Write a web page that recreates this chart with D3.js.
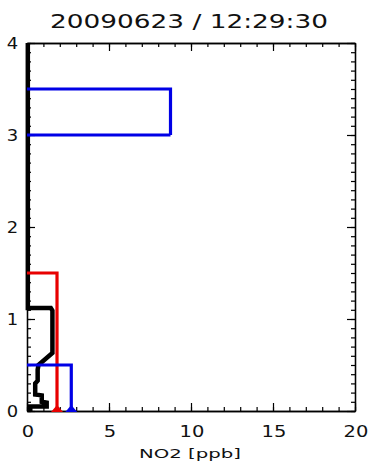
<!DOCTYPE html>
<html><head><meta charset="utf-8">
<script src="https://cdn.jsdelivr.net/npm/d3@7"></script>
<style>body{margin:0;background:#fff}svg{display:block}text{font-family:"DejaVu Sans",sans-serif;fill:#111}</style>
</head><body><svg id="c" width="371" height="475"></svg>
<script>
const title = "20090623 / 12:29:30";
const xLabel = "NO2 [ppb]";
const xTicks = [0, 5, 10, 15, 20];
const yTicks = [0, 1, 2, 3, 4];
// black measured profile: [NO2 ppb, altitude km]
const profileNO2 = [0.05, 0.05, 1.45, 1.55, 1.55, 0.7, 0.65, 0.65, 0.5, 0.5, 0.9, 0.9, 1.2, 1.2, 0.2, 0.2];
const profileAlt = [4.0, 1.12, 1.12, 1.09, 0.63, 0.5, 0.45, 0.33, 0.3, 0.18, 0.17, 0.1, 0.09, 0.05, 0.05, 0.0];
// boxes: red and blue layers [value, bottom, top]
const redBoxes = [[1.83, 0, 1.5]];
const blueBoxes = [[2.7, 0, 0.5], [8.75, 3.0, 3.5]];
const redMarker = 1.83, blueMarker = 2.7;

const svg = d3.select("#c");
const L = 27, R = 355, T = 43, B = 411;
const x = d3.scaleLinear().domain([0, 20]).range([L, R]);
const y = d3.scaleLinear().domain([0, 4]).range([B, T]);

const g = svg.append("g");
function axis(gen, tr) { const a = g.append("g").attr("transform", tr).call(gen);
  a.selectAll(".domain").attr("stroke", "#000").attr("stroke-width", 1.3);
  a.selectAll(".tick line").attr("stroke", "#000").attr("stroke-width", 1.2);
  a.selectAll("text").remove(); return a; }
const xMinor = d3.range(0, 21, 1), yMinor = d3.range(0, 41, 1).map(d => d / 10);
axis(d3.axisBottom(x).tickValues(xMinor).tickSize(-4).tickSizeOuter(0), `translate(0,${B})`);
axis(d3.axisBottom(x).tickValues(xTicks).tickSize(-8).tickSizeOuter(0), `translate(0,${B})`);
axis(d3.axisTop(x).tickValues(xMinor).tickSize(-4).tickSizeOuter(0), `translate(0,${T})`);
axis(d3.axisTop(x).tickValues(xTicks).tickSize(-8).tickSizeOuter(0), `translate(0,${T})`);
axis(d3.axisLeft(y).tickValues(yMinor).tickSize(-4).tickSizeOuter(0), `translate(${L},0)`);
axis(d3.axisLeft(y).tickValues(yTicks).tickSize(-8).tickSizeOuter(0), `translate(${L},0)`);
axis(d3.axisRight(y).tickValues(yMinor).tickSize(-4).tickSizeOuter(0), `translate(${R},0)`);
axis(d3.axisRight(y).tickValues(yTicks).tickSize(-8).tickSizeOuter(0), `translate(${R},0)`);

function stretch(sel, cx, k) { sel.attr("transform", `translate(${cx},0) scale(${k},1) translate(${-cx},0)`); }
function fit(sel, cx, w) { const n = sel.node().getBBox().width; stretch(sel, cx, w / n); }

// labels
svg.selectAll(".xl").data(xTicks).join("text").attr("x", d => x(d) + 1).attr("y", 437)
  .attr("text-anchor", "middle").attr("font-size", 15).text(d => d)
  .each(function(d) { stretch(d3.select(this), x(d) + 1, 1.3); });
svg.selectAll(".yl").data(yTicks).join("text").attr("x", 12.5).attr("y", d => y(d) + 6)
  .attr("text-anchor", "middle").attr("font-size", 15).text(d => d)
  .each(function() { stretch(d3.select(this), 12.5, 1.2); });
const xl = svg.append("text").attr("x", 190).attr("y", 458).attr("text-anchor", "middle").attr("font-size", 12.5)
  .text(xLabel);
fit(xl, 190, 102);
const tt = svg.append("text").attr("x", 189).attr("y", 28).attr("text-anchor", "middle").attr("font-size", 20)
  .text(title);
fit(tt, 189, 278);

// profile
const line = d3.line().x(d => x(d[0])).y(d => y(d[1]));
const prof = profileNO2.map((v, i) => [v, profileAlt[i]]);
svg.append("path").attr("d", line(prof)).attr("fill", "none").attr("stroke", "#000")
  .attr("stroke-width", 4.5).attr("stroke-linejoin", "miter");

function boxes(data, col) {
  svg.selectAll(null).data(data).join("path")
    .attr("d", d => line([[0, d[2]], [d[0], d[2]], [d[0], d[1]]]) )
    .attr("fill", "none").attr("stroke", col).attr("stroke-width", 3.2);
  svg.selectAll(null).data(data.filter(d => d[1] > 0)).join("line")
    .attr("x1", x(0)).attr("x2", d => x(d[0])).attr("y1", d => y(d[1])).attr("y2", d => y(d[1]))
    .attr("stroke", col).attr("stroke-width", 3.2);
}
boxes(redBoxes, "#e80000");
boxes(blueBoxes, "#0000e6");
function marker(v, col) {
  const cx = x(v), by = y(0) + 1;
  svg.append("path").attr("d", `M${cx - 6},${by}L${cx + 6},${by}L${cx},${by - 7}Z`).attr("fill", col);
}
marker(redMarker, "#e80000");
marker(blueMarker, "#0000e6");
</script></body></html>
